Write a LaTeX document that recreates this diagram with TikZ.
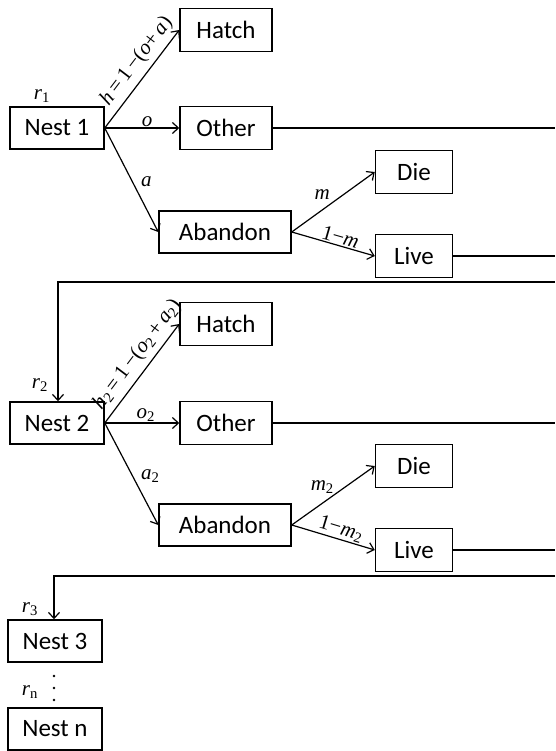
\documentclass[tikz,border=0pt]{standalone}
\usepackage{fontspec}
\setmainfont{Carlito}
\newfontfamily\labfont{Liberation Serif}
\newcommand{\vi}[1]{\textit{#1}}
\newcommand{\sbs}[1]{\textsubscript{\upshape #1}}
\usetikzlibrary{arrows.meta}
\begin{document}
\begin{tikzpicture}[x=1pt,y=-1pt,
  box/.style={draw, line width=1.5pt, inner sep=0pt, font=\fontsize{25}{27}\selectfont},
  nestbox/.style={box, minimum width=94pt, minimum height=42pt},
  outbox/.style={box, minimum width=92pt, minimum height=43pt},
  abbox/.style={box, minimum width=132pt, minimum height=42pt},
  smbox/.style={box, minimum width=77pt, minimum height=43pt},
  conn/.style={line width=1.2pt},
  arr/.style={conn, -{Straight Barb[length=6pt,width=11pt,line width=1.2pt]}},
  lab/.style={font=\labfont\fontsize{21}{23}\selectfont, inner sep=1pt}]
\useasboundingbox (0,0) rectangle (555,751);

% row 1
\node[nestbox] (n1) at (57,128) {Nest 1};
\node[outbox] (h1) at (226,30) {Hatch};
\node[outbox] (o1) at (226,128) {Other};
\node[abbox] (a1) at (225,232) {Abandon};
\node[smbox] (d1) at (414,172) {Die};
\node[smbox] (l1) at (414,256) {Live};
\node[lab] (r1) at (42,96) {\vi{r}\sbs{1}};

\draw[arr] (n1.east) -- node[lab, sloped, above=4pt, pos=0.59] {\vi{h}\,=\,1\,−(\vi{o}+\,\vi{a})} (h1.west);
\draw[arr] (n1.east) -- node[lab, above=0pt, pos=0.57] {\vi{o}} (o1.west);
\draw[arr] (n1.east) -- node[lab, right=7pt, pos=0.52] {\vi{a}} (a1.west);
\draw[arr] (a1.east) -- node[lab, above=4pt, xshift=-6pt, pos=0.44] {\vi{m}} (d1.west);
\draw[arr] (a1.east) -- node[lab, sloped, above=0pt, pos=0.56] {1−\vi{m}} (l1.west);

\coordinate (e1o) at (555,128);
\coordinate (e1l) at (555,256);
\coordinate (e1r) at (555,282);
\coordinate (k1) at (58,282);
\draw[conn] (o1.east) -- (e1o);
\draw[conn] (l1.east) -- (e1l);

% row 2
\node[nestbox] (n2) at (57,423) {Nest 2};
\node[outbox] (h2) at (226,324) {Hatch};
\node[outbox] (o2) at (226,423) {Other};
\node[abbox] (a2) at (225,525) {Abandon};
\node[smbox] (d2) at (414,466) {Die};
\node[smbox] (l2) at (414,550) {Live};
\node[lab] (r2) at (40,385) {\vi{r}\sbs{2}};

\draw[arr] (e1r) -- (k1) -- (n2.north -| k1);
\draw[arr] (n2.east) -- node[lab, sloped, above=4pt, pos=0.6] {\vi{h}\sbs{2}\,=\,1\,−(\vi{o}\sbs{2}\,+\,\vi{a}\sbs{2})} (h2.west);
\draw[arr] (n2.east) -- node[lab, above=0pt, pos=0.55] {\vi{o}\sbs{2}} (o2.west);
\draw[arr] (n2.east) -- node[lab, right=7pt, pos=0.52] {\vi{a}\sbs{2}} (a2.west);
\draw[arr] (a2.east) -- node[lab, above=4pt, xshift=-6pt, pos=0.44] {\vi{m}\sbs{2}} (d2.west);
\draw[arr] (a2.east) -- node[lab, sloped, above=0pt, pos=0.56] {1−\vi{m}\sbs{2}} (l2.west);

\coordinate (e2o) at (555,423);
\coordinate (e2l) at (555,550);
\coordinate (e2r) at (555,576);
\coordinate (k2) at (54,576);
\draw[conn] (o2.east) -- (e2o);
\draw[conn] (l2.east) -- (e2l);

% row 3
\node[nestbox] (n3) at (55,641) {Nest 3};
\node[lab] (r3) at (30,609) {\vi{r}\sbs{3}};
\draw[arr] (e2r) -- (k2) -- (n3.north -| k2);

\node[lab] (rn) at (30,692) {\vi{r}\sbs{n}};
\fill (54,676) circle (1.4pt) (54,688) circle (1.4pt) (54,700) circle (1.4pt);
\node[nestbox] (nn) at (55,729) {Nest n};
\end{tikzpicture}
\end{document}
